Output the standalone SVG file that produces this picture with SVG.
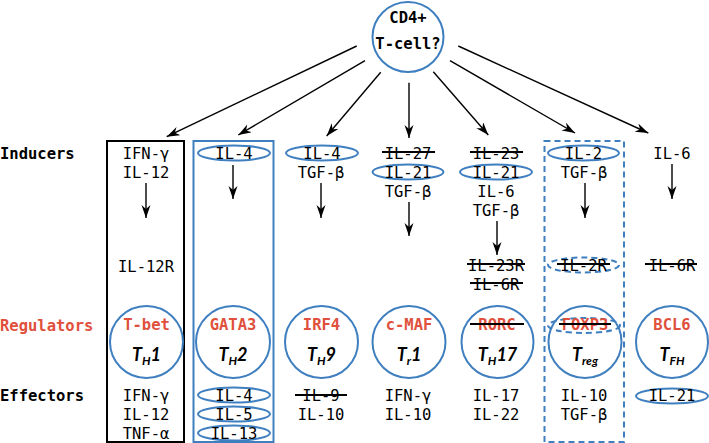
<svg xmlns="http://www.w3.org/2000/svg" width="709" height="443" viewBox="0 0 709 443">
<defs>
<marker id="ah" markerUnits="userSpaceOnUse" markerWidth="14" markerHeight="10" refX="13" refY="4.5" orient="auto" viewBox="0 0 14 10">
<path d="M0,0 L13,4.5 L0,9 L4,4.5 z" fill="#000"/>
</marker>
<style>
.t{font-family:"DejaVu Sans Mono","Liberation Mono",monospace;font-size:15.5px;fill:#000;text-anchor:middle}
.lab{font-family:"DejaVu Sans Mono","Liberation Mono",monospace;font-size:15.5px;font-weight:bold;fill:#000}
.red{fill:#e0503c}
.reg{font-family:"DejaVu Sans Mono","Liberation Mono",monospace;font-size:15.5px;font-weight:bold;fill:#e0503c;text-anchor:middle}
.th{font-family:Lato,"Liberation Sans",sans-serif;font-size:18px;font-weight:bold;font-style:italic;fill:#000;text-anchor:middle}
.sub{font-size:12px}
.ov{fill:none;stroke:#3f7fbf;stroke-width:2}
.dash{stroke-dasharray:6,4}
.st{stroke:#000;stroke-width:1.8}
.ar{stroke:#000;stroke-width:1.4;fill:none;marker-end:url(#ah)}
</style>
</defs>
<rect width="709" height="443" fill="#fff"/>

<g id="labels">
<text class="lab" x="0" y="158.5">Inducers</text>
<text class="lab red" x="0" y="330.5">Regulators</text>
<text class="lab" x="0" y="400.5">Effectors</text>
</g>

<g id="root">
<ellipse class="ov" cx="408" cy="37" rx="35.5" ry="35"/>
<text class="t" x="408" y="22.5" font-weight="bold">CD4+</text>
<text class="t" x="408" y="48.5" font-weight="bold">T-cell?</text>
</g>

<g id="boxes">
<rect x="107" y="141" width="77" height="301" fill="none" stroke="#000" stroke-width="2"/>
<rect x="193.5" y="141" width="80" height="301" class="ov"/>
<rect x="544.5" y="141" width="79.5" height="301" class="ov dash"/>
</g>

<g id="connectors">
<line class="ar" x1="356.7" y1="46" x2="166.7" y2="136.7"/>
<line class="ar" x1="365" y1="60.7" x2="238.3" y2="135"/>
<line class="ar" x1="380.7" y1="72.3" x2="326.7" y2="136"/>
<line class="ar" x1="409" y1="82.7" x2="409" y2="138"/>
<line class="ar" x1="433.3" y1="71.7" x2="488.3" y2="135"/>
<line class="ar" x1="450" y1="60.7" x2="575" y2="133"/>
<line class="ar" x1="458.3" y1="46" x2="648.3" y2="133"/>
<line class="ar" x1="146" y1="183" x2="146" y2="218"/>
<line class="ar" x1="233" y1="165" x2="233" y2="199"/>
<line class="ar" x1="321" y1="183" x2="321" y2="218"/>
<line class="ar" x1="409" y1="202" x2="409" y2="236"/>
<line class="ar" x1="497" y1="221" x2="497" y2="255"/>
<line class="ar" x1="585" y1="183" x2="585" y2="218"/>
<line class="ar" x1="672" y1="164" x2="672" y2="199"/>
</g>

<g id="th1">
<text class="t" x="146" y="158.5">IFN-γ</text>
<text class="t" x="146" y="177.5">IL-12</text>
<text class="t" x="146" y="271.5">IL-12R</text>
<ellipse class="ov" cx="146.5" cy="342" rx="36.5" ry="36"/>
<text class="reg" x="146.5" y="329.5">T-bet</text>
<text class="th" x="146.5" y="360.5">T<tspan class="sub" dy="4">H</tspan><tspan dy="-4">1</tspan></text>
<text class="t" x="146" y="400.5">IFN-γ</text>
<text class="t" x="146" y="419.5">IL-12</text>
<text class="t" x="146" y="438.5">TNF-α</text>
</g>

<g id="th2">
<ellipse class="ov" cx="234" cy="153" rx="36" ry="7.5"/>
<text class="t" x="234" y="158.5">IL-4</text>
<ellipse class="ov" cx="233" cy="342" rx="37" ry="36"/>
<text class="reg" x="233" y="329.5">GATA3</text>
<text class="th" x="233" y="360.5">T<tspan class="sub" dy="4">H</tspan><tspan dy="-4">2</tspan></text>
<ellipse class="ov" cx="234" cy="395" rx="36" ry="7.5"/>
<text class="t" x="234" y="400.5">IL-4</text>
<ellipse class="ov" cx="234" cy="414" rx="36" ry="7.5"/>
<text class="t" x="234" y="419.5">IL-5</text>
<ellipse class="ov" cx="234" cy="433" rx="36" ry="7.5"/>
<text class="t" x="234" y="438.5">IL-13</text>
</g>

<g id="th9">
<ellipse class="ov" cx="322" cy="153" rx="36" ry="7.5"/>
<text class="t" x="322" y="158.5">IL-4</text>
<text class="t" x="321" y="177.5">TGF-β</text>
<ellipse class="ov" cx="321.5" cy="342" rx="36.5" ry="36"/>
<text class="reg" x="321.5" y="329.5">IRF4</text>
<text class="th" x="321.5" y="360.5">T<tspan class="sub" dy="4">H</tspan><tspan dy="-4">9</tspan></text>
<text class="t" x="321" y="400.5">IL-9</text>
<line class="st" x1="295" y1="395" x2="347" y2="395"/>
<text class="t" x="321" y="419.5">IL-10</text>
</g>

<g id="tr1">
<text class="t" x="408" y="158.5">IL-27</text>
<line class="st" x1="382" y1="152" x2="435" y2="152"/>
<ellipse class="ov" cx="408" cy="172" rx="35.5" ry="7.5"/>
<text class="t" x="408" y="177.5">IL-21</text>
<text class="t" x="408" y="196.5">TGF-β</text>
<ellipse class="ov" cx="409" cy="342" rx="36.5" ry="36"/>
<text class="reg" x="409" y="329.5">c-MAF</text>
<text class="th" x="409" y="360.5">T<tspan class="sub" dy="4">r</tspan><tspan dy="-4">1</tspan></text>
<text class="t" x="408" y="400.5">IFN-γ</text>
<text class="t" x="408" y="419.5">IL-10</text>
</g>

<g id="th17">
<text class="t" x="496" y="158.5">IL-23</text>
<line class="st" x1="470" y1="152" x2="523" y2="152"/>
<ellipse class="ov" cx="496" cy="172" rx="36" ry="7.5"/>
<text class="t" x="496" y="177.5">IL-21</text>
<text class="t" x="496" y="196.5">IL-6</text>
<text class="t" x="496" y="215.5">TGF-β</text>
<text class="t" x="496" y="270.5">IL-23R</text>
<line class="st" x1="467" y1="264" x2="525" y2="264"/>
<text class="t" x="496" y="289.5">IL-6R</text>
<line class="st" x1="470" y1="283" x2="523" y2="283"/>
<ellipse class="ov" cx="497.5" cy="342" rx="36" ry="36"/>
<text class="reg" x="497" y="329.5">RORC</text>
<line class="st" x1="470" y1="324" x2="524" y2="324"/>
<text class="th" x="497.5" y="360.5">T<tspan class="sub" dy="4">H</tspan><tspan dy="-4">17</tspan></text>
<text class="t" x="496" y="400.5">IL-17</text>
<text class="t" x="496" y="419.5">IL-22</text>
</g>

<g id="treg">
<ellipse class="ov" cx="583.5" cy="153" rx="35.5" ry="7.5"/>
<text class="t" x="583.5" y="158.5">IL-2</text>
<text class="t" x="584" y="177.5">TGF-β</text>
<ellipse class="ov dash" cx="583.5" cy="265" rx="35.5" ry="7.5"/>
<text class="t" x="583.5" y="270.5">IL-2R</text>
<line class="st" x1="557" y1="264" x2="610" y2="264"/>
<ellipse class="ov" cx="585" cy="342" rx="36.5" ry="36"/>
<ellipse class="ov dash" cx="584" cy="325.5" rx="36" ry="7.5"/>
<text class="reg" x="585" y="329.5">FOXP3</text>
<line class="st" x1="559" y1="324" x2="611" y2="324"/>
<text class="th" x="585" y="360.5">T<tspan class="sub" dy="4">reg</tspan></text>
<text class="t" x="584" y="400.5">IL-10</text>
<text class="t" x="584" y="419.5">TGF-β</text>
</g>

<g id="tfh">
<text class="t" x="672" y="158.5">IL-6</text>
<text class="t" x="672" y="270.5">IL-6R</text>
<line class="st" x1="645" y1="264" x2="697" y2="264"/>
<ellipse class="ov" cx="672" cy="342" rx="36" ry="36"/>
<text class="reg" x="672" y="329.5">BCL6</text>
<text class="th" x="672" y="360.5">T<tspan class="sub" dy="4">FH</tspan></text>
<ellipse class="ov" cx="672" cy="396" rx="36" ry="7.5"/>
<text class="t" x="672" y="400.5">IL-21</text>
</g>
</svg>
